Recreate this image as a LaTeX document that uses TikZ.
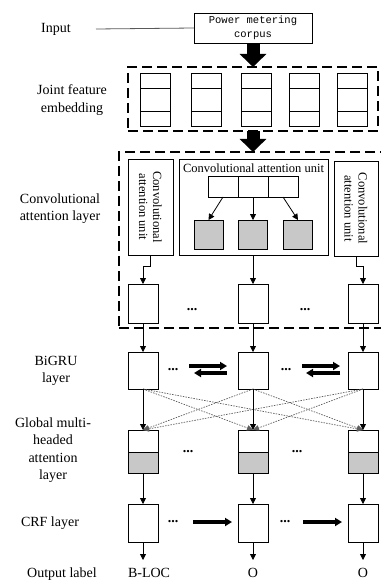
\documentclass[tikz,border=0pt]{standalone}
\usepackage{fontspec}
\setmainfont{Liberation Serif}
\newfontfamily\corpusfont{Liberation Mono}
\usetikzlibrary{arrows.meta,calc}
\definecolor{cellgray}{RGB}{200,200,200}
\definecolor{dotgray}{RGB}{95,95,95}

\begin{document}
\begin{tikzpicture}[x=1pt,y=-1pt,
  box/.style={draw, line width=0.9pt, fill=white, inner sep=0pt, outer sep=0pt},
  lbl/.style={align=center, font=\fontsize{14}{17.5}\selectfont, inner sep=0pt},
  dashbox/.style={draw, line width=1.3pt, dash pattern=on 10pt off 5pt, inner sep=0pt, outer sep=0pt},
  linkarrow/.style={line width=0.8pt, -{Triangle[length=6pt,width=6pt]}},
  crossarrow/.style={dotgray, line width=0.7pt, dash pattern=on 1.5pt off 1.2pt, -{Triangle[length=6pt,width=5.5pt]}},
  thickarrow/.style={line width=3.5pt, -{Triangle[length=7pt,width=8pt]}},
  bigarrow/.style={line width=13pt, -{Triangle[length=13pt,width=26pt]}},
  ellip/.style={font=\fontsize{14}{14}\selectfont\bfseries, inner sep=0pt},
  outlbl/.style={font=\fontsize{14}{17.5}\selectfont, inner sep=0pt, anchor=base},
]
\fill[white] (0,0) rectangle (380,580);
\useasboundingbox (0,0) rectangle (380,580);

% ---------- left-hand layer labels ----------
\node[lbl] (linput) at (56,29) {Input};
\node[lbl] (lemb) at (72,100) {Joint feature\\embedding};
\node[lbl] (lconv) at (60,208.5) {Convolutional\\attention layer};
\node[lbl] (lgru) at (56,371) {BiGRU\\layer};
\node[lbl] (latt) at (53,450) {Global multi-\\headed\\attention\\layer};
\node[lbl] (lcrf) at (50,523) {CRF layer};
\node[outlbl] (lout) at (62,577) {Output label};

% ---------- input corpus ----------
\node[box, minimum width=118pt, minimum height=30pt, align=center,
      font=\corpusfont\fontsize{10.5}{14}\selectfont] (pw) at (253,28) {Power metering\\corpus};
\coordinate (inend) at (96,29);
\draw[line width=0.8pt, black!65] (inend) -- (pw.west);

% ---------- joint feature embedding ----------
\node[dashbox, minimum width=250pt, minimum height=64pt] (emb) at (253,99) {};
\foreach \i/\x in {1/155,2/206,3/256,4/304,5/352}{
  \node[box, minimum width=30pt, minimum height=53pt] (e\i) at (\x,99.5) {};
  \draw[line width=0.9pt] (e\i.west |- 0,88) -- (e\i.east |- 0,88);
  \draw[line width=0.9pt] (e\i.west |- 0,111) -- (e\i.east |- 0,111);
}
\draw[bigarrow] (pw.south) -- (emb.north);

% ---------- convolutional attention layer ----------
\node[dashbox, minimum width=265pt, minimum height=176pt] (conv) at (251.5,240) {};
\draw[bigarrow] (emb.south) -- (emb.south |- conv.north);

\node[box, minimum width=45pt, minimum height=96pt] (cl) at (150.5,207) {};
\node[rotate=-90, align=center, font=\fontsize{12.5}{14}\selectfont, inner sep=0pt] (cltext) at (cl.center) {Convolutional\\attention unit};
\node[box, minimum width=44pt, minimum height=95pt] (cr) at (356,208.5) {};
\node[rotate=-90, align=center, font=\fontsize{12.5}{14}\selectfont, inner sep=0pt] (crtext) at (cr.center) {Convolutional\\attention unit};

\node[box, minimum width=149pt, minimum height=96pt] (cm) at (253.5,207) {};
\node[font=\fontsize{12.5}{15}\selectfont, inner sep=0pt] (cmtitle) at (253.5,168) {Convolutional attention unit};
\foreach \i/\x in {1/223,2/253,3/283}{
  \node[box, minimum width=30pt, minimum height=21pt] (s\i) at (\x,186.5) {};
}
\foreach \i/\x in {1/208.5,2/253,3/298}{
  \node[box, fill=cellgray, minimum width=29pt, minimum height=29pt] (g\i) at (\x,234.5) {};
  \draw[linkarrow] (s\i.south) -- (g\i.north);
}

\foreach \i/\x in {1/143,2/253,3/363}{
  \node[box, minimum width=30pt, minimum height=39pt] (L\i) at (\x,303.5) {};
}
\draw[linkarrow] (cl.south) -- ++(0,11) -| (L1.north);
\draw[linkarrow] (cm.south -| L2.north) -- (L2.north);
\draw[linkarrow] (cr.south) -- ++(0,10) -| (L3.north);
\node[ellip] (d1) at (192,310) {...};
\node[ellip] (d2) at (305,310) {...};

% ---------- BiGRU layer ----------
\foreach \i/\x in {1/143,2/253,3/363}{
  \node[box, minimum width=30pt, minimum height=37pt] (B\i) at (\x,370.5) {};
  \draw[linkarrow] (L\i.south) -- (B\i.north);
}
\node[ellip] (d3) at (173,370) {...};
\node[ellip] (d4) at (286,370) {...};
\coordinate (f1a) at (189,366); \coordinate (f1b) at (227,366);
\coordinate (r1a) at (227,373); \coordinate (r1b) at (194,373);
\coordinate (f2a) at (302,366); \coordinate (f2b) at (340,366);
\coordinate (r2a) at (340,373); \coordinate (r2b) at (306,373);
\draw[thickarrow] (f1a) -- (f1b);
\draw[thickarrow] (r1a) -- (r1b);
\draw[thickarrow] (f2a) -- (f2b);
\draw[thickarrow] (r2a) -- (r2b);

% ---------- global multi-headed attention layer ----------
\foreach \i/\x in {1/143,2/253,3/363}{
  \node[box, minimum width=30pt, minimum height=22pt] (At\i) at (\x,441) {};
  \node[box, fill=cellgray, minimum width=30pt, minimum height=21pt] (Ab\i) at (\x,462.5) {};
}
\foreach \i in {1,2,3}{
  \foreach \j in {1,2,3}{
    \ifnum\i=\j\else
      \draw[crossarrow] (B\i.south) -- (At\j.north);
    \fi
  }
}
\foreach \i in {1,2,3}{
  \draw[linkarrow] (B\i.south) -- (At\i.north);
}
\node[ellip] (d5) at (188,452) {...};
\node[ellip] (d6) at (297,452) {...};

% ---------- CRF layer ----------
\foreach \i/\x in {1/143,2/253,3/363}{
  \node[box, minimum width=30pt, minimum height=38pt] (C\i) at (\x,523) {};
  \draw[linkarrow] (Ab\i.south) -- (C\i.north);
  \coordinate (oc\i) at (\x,560);
  \draw[linkarrow] (C\i.south) -- (oc\i);
}
\node[ellip] (d7) at (173,522) {...};
\node[ellip] (d8) at (285,522) {...};
\coordinate (c1a) at (193,522); \coordinate (c1b) at (232,522);
\coordinate (c2a) at (303,522); \coordinate (c2b) at (342,522);
\draw[thickarrow] (c1a) -- (c1b);
\draw[thickarrow] (c2a) -- (c2b);

% ---------- output labels ----------
\node[outlbl] (o1) at (149,577) {B-LOC};
\node[outlbl] (o2) at (253,577) {O};
\node[outlbl] (o3) at (363,577) {O};
\end{tikzpicture}
\end{document}
